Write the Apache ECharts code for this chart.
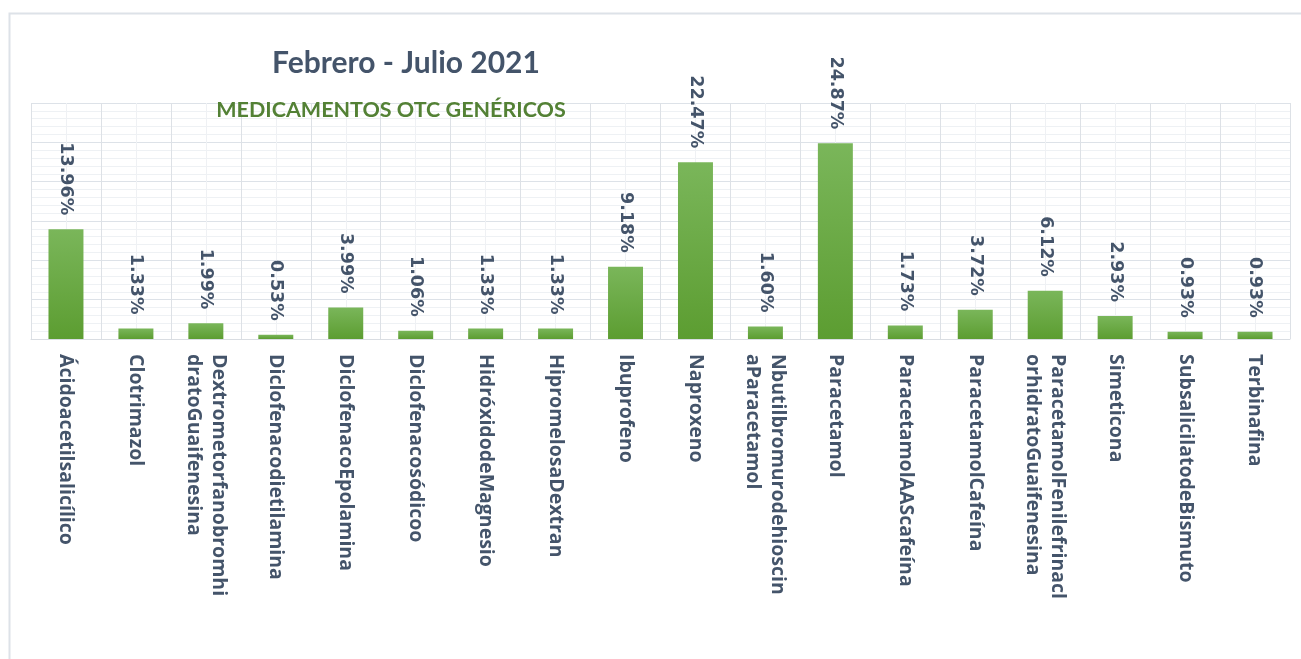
<!DOCTYPE html>
<html>
<head>
<meta charset="utf-8">
<script src="https://cdn.jsdelivr.net/npm/echarts@6/dist/echarts.min.js"></script>
<style>
html,body{margin:0;padding:0;background:#fff;}
#c{width:1301px;height:659px;}
</style>
</head>
<body>
<div id="c"></div>
<script>
const titleText = 'Febrero - Julio 2021';
const subtitleText = 'MEDICAMENTOS OTC GENÉRICOS';
const categories = [
  'Ácidoacetilsalicílico',
  'Clotrimazol',
  'Dextrometorfanobromhi\ndratoGuaifenesina',
  'Diclofenacodietilamina',
  'DiclofenacoEpolamina',
  'Diclofenacosódicoo',
  'HidróxidodeMagnesio',
  'HipromelosaDextran',
  'Ibuprofeno',
  'Naproxeno',
  'Nbutilbromurodehioscin\naParacetamol',
  'Paracetamol',
  'ParacetamolAAScafeína',
  'ParacetamolCafeína',
  'ParacetamolFenilefrinacl\norhidratoGuaifenesina',
  'Simeticona',
  'SubsalicilatodeBismuto',
  'Terbinafina'
];
const values = [13.96, 1.33, 1.99, 0.53, 3.99, 1.06, 1.33, 1.33, 9.18, 22.47, 1.60, 24.87, 1.73, 3.72, 6.12, 2.93, 0.93, 0.93];
const yMin = 0, yMax = 30, yStep = 5;

const chart = echarts.init(document.getElementById('c'), null, {renderer: 'canvas'});
const textColor = '#44546a';
chart.setOption({
  animation: false,
  backgroundColor: '#ffffff',
  graphic: [{
    type: 'rect', left: 7, top: 11, z: 100,
    shape: {width: 1400, height: 800},
    style: {fill: 'none', stroke: '#dde2e8', lineWidth: 2}
  }],
  title: [{
    text: titleText, left: 401, top: 43, textAlign: 'center',
    textStyle: {fontFamily: 'Lato', fontWeight: 'bold', fontSize: 30, color: textColor}
  }, {
    text: subtitleText, left: 386, top: 94, textAlign: 'center',
    textStyle: {fontFamily: 'Lato', fontWeight: 'bold', fontSize: 21.5, color: '#538135'}
  }],
  grid: {left: 31, right: 11, top: 103, bottom: 320, containLabel: false},
  xAxis: [{
    type: 'category', data: categories,
    axisLine: {show: true, lineStyle: {color: '#d9dde2', width: 1}},
    axisTick: {show: false},
    splitLine: {show: true, interval: 0, lineStyle: {color: '#dde1e6', width: 1}},
    axisLabel: {
      interval: 0, rotate: -90, margin: 15,
      fontFamily: 'Open Sans', fontWeight: 'bold', fontSize: 19.5, color: textColor,
      lineHeight: 25
    },
    z: 3
  }, {
    type: 'value', min: 0, max: categories.length, interval: 0.5,
    position: 'bottom', show: true,
    axisLine: {show: false}, axisTick: {show: false}, axisLabel: {show: false},
    splitLine: {show: true, lineStyle: {color: '#eff1f4', width: 1}},
    z: 1
  }],
  yAxis: {
    type: 'value', min: yMin, max: yMax, interval: yStep,
    axisLine: {show: false}, axisTick: {show: false}, axisLabel: {show: false},
    splitLine: {show: true, lineStyle: {color: '#dde2e8', width: 1}},
    minorTick: {show: false, splitNumber: 5},
    minorSplitLine: {show: true, lineStyle: {color: '#eef1f4', width: 1}}
  },
  series: [{
    type: 'bar', xAxisIndex: 0, data: values, barWidth: '50%',
    itemStyle: {
      color: new echarts.graphic.LinearGradient(0, 0, 0, 1, [
        {offset: 0, color: '#7ab65a'},
        {offset: 1, color: '#5c9d31'}
      ])
    },
    label: {
      show: true, position: 'top', distance: 14, rotate: -90,
      align: 'right', verticalAlign: 'middle',
      formatter: p => p.value.toFixed(2) + '%',
      fontFamily: 'DejaVu Sans', fontWeight: 'bold', fontSize: 17.5, color: textColor
    },
    z: 5
  }]
});
</script>
</body>
</html>
